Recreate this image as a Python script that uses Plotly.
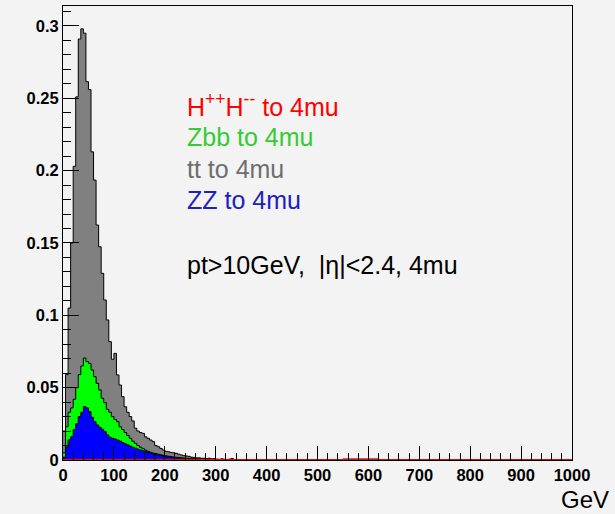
import numpy as np
import plotly.graph_objects as go

# ---- data: 5 GeV bins from 0 to 1000 GeV (200 bins) ----
bin_width = 5
n_bins = 200

# ZZ -> 4mu (bottom of the stack, blue)
zz = [0.002, 0.009, 0.014, 0.016, 0.021, 0.025, 0.030, 0.033, 0.037, 0.036,
      0.0334, 0.0295, 0.0265, 0.0242, 0.0226, 0.0212, 0.0196, 0.0173, 0.0157, 0.015,
      0.0145, 0.0138, 0.013, 0.012, 0.0112, 0.0104, 0.0096, 0.0088, 0.0082, 0.0075,
      0.0069, 0.0063, 0.0057, 0.0052, 0.0047, 0.0042, 0.0038, 0.0035, 0.0032, 0.0028,
      0.0025, 0.0022, 0.0020, 0.0018, 0.0016, 0.0014, 0.0013, 0.0011, 0.0010, 0.0009,
      0.0008, 0.0007, 0.0006, 0.0006, 0.0005, 0.0005, 0.0004, 0.0004, 0.0003, 0.0003,
      0.0002, 0.0002, 0.0002, 0.0002, 0.0002, 0.0002, 0.0002] + [0.0] * 133

# Zbb -> 4mu (green, stacked on ZZ)
zbb = [0.003, 0.014, 0.019, 0.020, 0.021, 0.025, 0.029, 0.032, 0.0335, 0.032,
       0.0334, 0.0327, 0.0311, 0.0288, 0.0258, 0.0215, 0.020, 0.0177, 0.0173, 0.015,
       0.0135, 0.0127, 0.010, 0.009, 0.0078, 0.0066, 0.0054, 0.0042, 0.0033, 0.0025,
       0.0019, 0.0015, 0.0011, 0.0008, 0.0006, 0.0006, 0.0006, 0.0005, 0.0004, 0.0004,
       0.0004, 0.0004, 0.0003, 0.0003, 0.0003, 0.0003, 0.0002, 0.0002, 0.0002, 0.0002,
       0.0002, 0.0002, 0.0002, 0.0001, 0.0001, 0.0001, 0.0001, 0.0001, 0.0001, 0.0001,
       0.0001, 0.0001, 0.0001, 0.0001, 0.0001, 0.0001, 0.0001] + [0.0] * 133

# tt -> 4mu (grey, top of the stack)
tt = ([0.015, 0.036, 0.072, 0.114, 0.161, 0.201, 0.232, 0.233, 0.2245, 0.1935,
       0.1892, 0.1508, 0.1359, 0.1094, 0.099, 0.0863, 0.071, 0.0618, 0.0488, 0.0396,
       0.0457, 0.0323, 0.0288, 0.0228, 0.0178, 0.016, 0.015, 0.014, 0.0105, 0.010,
       0.0102, 0.0106, 0.0092, 0.009, 0.0085, 0.0079, 0.0056, 0.0052, 0.0044, 0.0037,
       0.0031, 0.0031, 0.0029, 0.0029, 0.0027, 0.0023, 0.002, 0.0017, 0.0016, 0.0014,
       0.001, 0.0009, 0.0007, 0.0008, 0.0006, 0.0006, 0.0005, 0.0007, 0.0004, 0.0006,
       0.0003, 0.0002, 0.0005, 0.0002, 0.0001, 0.0003, 0.0007]
      + [0.0] * 43 + [0.0007] * 14 + [0.0] * 76)

# H++H-- -> 4mu (red, drawn on its own)
hpp = [0.0] * n_bins

legend_labels = ["H<sup>++</sup>H<sup>--</sup> to 4mu", "Zbb to 4mu", "tt to 4mu", "ZZ to 4mu"]
cut_label = "pt&gt;10GeV,  |η|&lt;2.4, 4mu"
x_title = "GeV"

# ---- build ----
edges = np.arange(n_bins + 1) * bin_width
zz_a = np.array(zz)
zbb_a = np.array(zbb)
tt_a = np.array(tt)
s_zz = zz_a
s_zbb = zz_a + zbb_a
s_tt = zz_a + zbb_a + tt_a


def step_y(v):
    v = np.asarray(v, dtype=float)
    return np.append(v, v[-1])


fig = go.Figure()
for vals, col in [(s_tt, "#808080"), (s_zbb, "#00ff00"), (s_zz, "#0000ff")]:
    fig.add_trace(go.Scatter(x=edges, y=step_y(vals), mode="lines",
                             line=dict(shape="hv", color="#000000", width=1),
                             fill="tozeroy", fillcolor=col, showlegend=False,
                             hoverinfo="skip"))
fig.add_trace(go.Scatter(x=edges, y=step_y(hpp), mode="lines",
                         line=dict(shape="hv", color="#ff0000", width=2),
                         showlegend=False, hoverinfo="skip", cliponaxis=False))

BG = "#f3f3f3"
tickfont = dict(family="Liberation Sans, Arial, sans-serif",
                size=16.5, color="#000000", weight="bold")

fig.update_xaxes(range=[0, 1000], dtick=100, tick0=0, ticks="inside", ticklen=14,
                 tickcolor="#000000", tickwidth=1, tickfont=tickfont,
                 minor=dict(dtick=20, ticks="inside", ticklen=7, tickcolor="#000000", tickwidth=1),
                 showline=True, linecolor="#000000", linewidth=1, mirror=True,
                 showgrid=False, zeroline=False)
fig.update_yaxes(range=[0, 0.3138], dtick=0.05, tick0=0, ticks="inside", ticklen=16,
                 tickcolor="#000000", tickwidth=1, tickfont=tickfont,
                 minor=dict(dtick=0.01, ticks="inside", ticklen=8, tickcolor="#000000", tickwidth=1),
                 showline=True, linecolor="#000000", linewidth=1, mirror=True,
                 showgrid=False, zeroline=False)

ann_font = "Liberation Sans, Arial, sans-serif"
text_colors = ["#ff0000", "#33cc33", "#6e6e6e", "#2020c0"]
text_y = [0.2456, 0.2235, 0.2014, 0.1794]
annotations = []
for lab, c, yy in zip(legend_labels, text_colors, text_y):
    annotations.append(dict(x=239, y=yy, xref="x", yref="y", text=lab, showarrow=False,
                            xanchor="left", yanchor="middle",
                            font=dict(family=ann_font, size=25, color=c)))
annotations.append(dict(x=239, y=0.1348, xref="x", yref="y", text=cut_label, showarrow=False,
                        xanchor="left", yanchor="middle",
                        font=dict(family=ann_font, size=25, color="#000000")))
annotations.append(dict(x=1.0767, y=-0.087, xref="paper", yref="paper", text=x_title,
                        showarrow=False, xanchor="right", yanchor="middle",
                        font=dict(family=ann_font, size=24, color="#000000")))

fig.update_layout(width=615, height=514, margin=dict(l=63, r=43, t=6, b=54),
                  paper_bgcolor=BG, plot_bgcolor=BG, annotations=annotations,
                  showlegend=False)

fig.write_html("out.html")
